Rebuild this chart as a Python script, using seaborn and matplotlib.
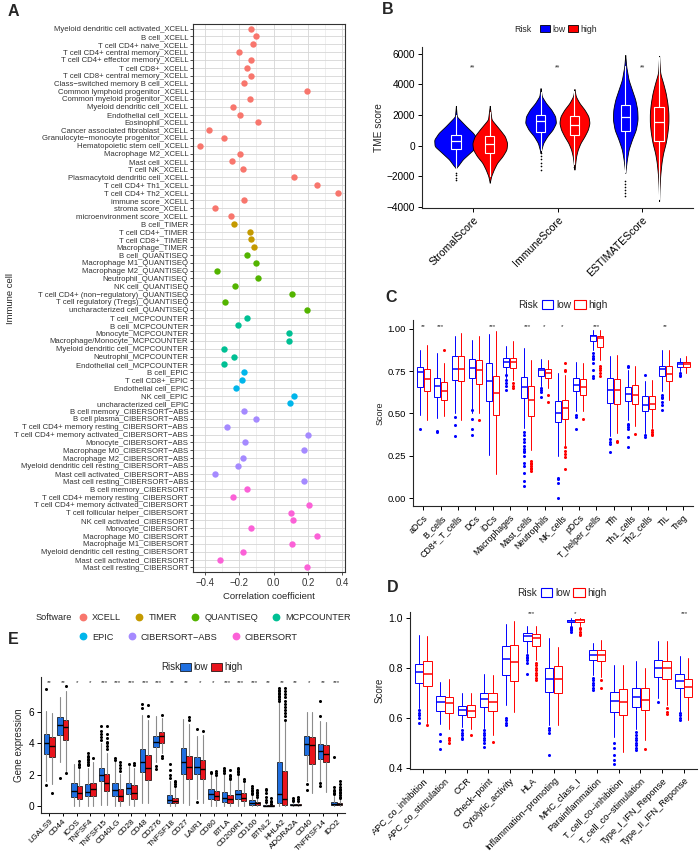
import numpy as np
import pandas as pd
import matplotlib
matplotlib.use('Agg')
import matplotlib.pyplot as plt
import seaborn as sns
from matplotlib.patches import Patch
from matplotlib.lines import Line2D

# ---------------------------------------------------------------- data: panel A
cells = [
    'Myeloid dendritic cell activated_XCELL', 'B cell_XCELL', 'T cell CD4+ naive_XCELL',
    'T cell CD4+ central memory_XCELL', 'T cell CD4+ effector memory_XCELL', 'T cell CD8+_XCELL',
    'T cell CD8+ central memory_XCELL', 'Class-switched memory B cell_XCELL',
    'Common lymphoid progenitor_XCELL', 'Common myeloid progenitor_XCELL',
    'Myeloid dendritic cell_XCELL', 'Endothelial cell_XCELL', 'Eosinophil_XCELL',
    'Cancer associated fibroblast_XCELL', 'Granulocyte-monocyte progenitor_XCELL',
    'Hematopoietic stem cell_XCELL', 'Macrophage M2_XCELL', 'Mast cell_XCELL', 'T cell NK_XCELL',
    'Plasmacytoid dendritic cell_XCELL', 'T cell CD4+ Th1_XCELL', 'T cell CD4+ Th2_XCELL',
    'immune score_XCELL', 'stroma score_XCELL', 'microenvironment score_XCELL',
    'B cell_TIMER', 'T cell CD4+_TIMER', 'T cell CD8+_TIMER', 'Macrophage_TIMER',
    'B cell_QUANTISEQ', 'Macrophage M1_QUANTISEQ', 'Macrophage M2_QUANTISEQ',
    'Neutrophil_QUANTISEQ', 'NK cell_QUANTISEQ', 'T cell CD4+ (non-regulatory)_QUANTISEQ',
    'T cell regulatory (Tregs)_QUANTISEQ', 'uncharacterized cell_QUANTISEQ',
    'T cell_MCPCOUNTER', 'B cell_MCPCOUNTER', 'Monocyte_MCPCOUNTER',
    'Macrophage/Monocyte_MCPCOUNTER', 'Myeloid dendritic cell_MCPCOUNTER',
    'Neutrophil_MCPCOUNTER', 'Endothelial cell_MCPCOUNTER',
    'B cell_EPIC', 'T cell CD8+_EPIC', 'Endothelial cell_EPIC', 'NK cell_EPIC',
    'uncharacterized cell_EPIC',
    'B cell memory_CIBERSORT-ABS', 'B cell plasma_CIBERSORT-ABS',
    'T cell CD4+ memory resting_CIBERSORT-ABS', 'T cell CD4+ memory activated_CIBERSORT-ABS',
    'Monocyte_CIBERSORT-ABS', 'Macrophage M0_CIBERSORT-ABS', 'Macrophage M2_CIBERSORT-ABS',
    'Myeloid dendritic cell resting_CIBERSORT-ABS', 'Mast cell activated_CIBERSORT-ABS',
    'Mast cell resting_CIBERSORT-ABS',
    'B cell memory_CIBERSORT', 'T cell CD4+ memory resting_CIBERSORT',
    'T cell CD4+ memory activated_CIBERSORT', 'T cell follicular helper_CIBERSORT',
    'NK cell activated_CIBERSORT', 'Monocyte_CIBERSORT', 'Macrophage M0_CIBERSORT',
    'Macrophage M1_CIBERSORT', 'Myeloid dendritic cell resting_CIBERSORT',
    'Mast cell activated_CIBERSORT', 'Mast cell resting_CIBERSORT',
]
coef = [
    -0.129, -0.102, -0.122, -0.201, -0.133, -0.155, -0.129, -0.174, 0.197, -0.137,
    -0.238, -0.193, -0.093, -0.379, -0.290, -0.427, -0.193, -0.245, -0.178, 0.120,
    0.253, 0.379, -0.172, -0.340, -0.251,
    -0.232, -0.135, -0.131, -0.114,
    -0.155, -0.104, -0.328, -0.091, -0.224, 0.108, -0.286, 0.197,
    -0.157, -0.205, 0.091, 0.091, -0.292, -0.228, -0.288,
    -0.174, -0.184, -0.218, 0.122, 0.095,
    -0.172, -0.104, -0.269, 0.201, -0.168, 0.178, -0.178, -0.205, -0.340, 0.176,
    -0.153, -0.234, 0.207, 0.100, 0.114, -0.131, 0.253, 0.108, -0.180, -0.313, 0.195,
]
software_order = ['XCELL', 'TIMER', 'QUANTISEQ', 'MCPCOUNTER', 'EPIC', 'CIBERSORT-ABS', 'CIBERSORT']
software_colors = ['#F8766D', '#C49A00', '#53B400', '#00C094', '#00B6EB', '#A58AFF', '#FB61D7']

# ---------------------------------------------------------------- data: panel B
b_groups = ['StromalScore', 'ImmuneScore', 'ESTIMATEScore']
# (lower whisker, q1, median, q3, upper whisker)
b_low_box = [(-1450, -196, 283, 717, 2000), (-300, 870, 1630, 2020, 3500), (-1700, 980, 1850, 2670, 5200)]
b_high_box = [(-2000, -480, 110, 610, 2200), (-1200, 717, 1350, 1910, 3600), (-3500, 326, 1520, 2520, 5800)]
b_low_out = [[-1800, -1950, -2100, -2250], [-480, -700, -900, -1150, -1350, -1570],
             [-2300, -2500, -2700, -2900, -3100, -3300]]
b_high_out = [[], [-1400], []]
# violin outlines: score levels and relative density
b_low_level = [
    [2600, 1900, 1260, 830, 390, -40, -480, -910, -1350, -1460],
    [3760, 3220, 2780, 2350, 1910, 1480, 1040, 610, 170, -260, -480],
    [5930, 5170, 4300, 3650, 3000, 2350, 1700, 1040, 390, -260, -910, -1780],
]
b_low_dens = [
    [0, .04, .46, .77, .97, .95, .62, .30, .08, 0],
    [0, .08, .35, .70, .95, 1.0, .78, .43, .17, .05, 0],
    [0, .08, .27, .54, .81, .97, 1.0, .86, .54, .27, .13, 0],
]
b_high_level = [
    [2600, 1700, 1040, 610, 170, -260, -700, -1130, -1570, -2000, -2430],
    [3700, 3220, 2780, 2350, 1910, 1480, 1040, 610, 170, -260, -700, -1570],
    [5870, 4740, 4090, 3430, 2780, 2130, 1480, 830, 170, -480, -1130, -2000, -2870, -3630],
]
b_high_dens = [
    [0, .10, .58, .87, 1.0, .96, .73, .42, .23, .08, 0],
    [0, .09, .33, .67, .93, 1.0, .89, .67, .40, .22, .11, 0],
    [0, .11, .43, .71, .89, 1.0, 1.0, .89, .71, .43, .25, .11, .04, 0],
]
b_low_peak = [0.255, 0.18, 0.145]
b_high_peak = [0.204, 0.176, 0.11]
b_sig = ['**', '**', '**']

# ---------------------------------------------------------------- data: panel C
c_groups = ['aDCs', 'B_cells', 'CD8+_T_cells', 'DCs', 'iDCs', 'Macrophages', 'Mast_cells',
            'Neutrophils', 'NK_cells', 'pDCs', 'T_helper_cells', 'Tfh', 'Th1_cells', 'Th2_cells',
            'TIL', 'Treg']
c_low = [
    (0.493, 0.657, 0.745, 0.775, 0.878), (0.473, 0.600, 0.665, 0.710, 0.858),
    (0.500, 0.700, 0.763, 0.838, 0.960), (0.500, 0.710, 0.769, 0.823, 0.937),
    (0.256, 0.572, 0.694, 0.800, 0.972), (0.710, 0.775, 0.803, 0.828, 0.900),
    (0.414, 0.592, 0.655, 0.716, 0.888), (0.665, 0.720, 0.755, 0.769, 0.822),
    (0.247, 0.448, 0.503, 0.572, 0.740), (0.513, 0.635, 0.670, 0.710, 0.805),
    (0.878, 0.927, 0.957, 0.966, 0.996), (0.369, 0.562, 0.641, 0.710, 0.838),
    (0.463, 0.572, 0.617, 0.655, 0.760), (0.385, 0.513, 0.552, 0.602, 0.690),
    (0.631, 0.720, 0.763, 0.783, 0.878), (0.750, 0.775, 0.795, 0.803, 0.828),
]
c_high = [
    (0.460, 0.633, 0.706, 0.763, 0.907), (0.483, 0.582, 0.631, 0.684, 0.800),
    (0.460, 0.690, 0.763, 0.842, 0.976), (0.500, 0.677, 0.757, 0.815, 0.957),
    (0.144, 0.489, 0.621, 0.724, 0.986), (0.700, 0.769, 0.803, 0.828, 0.927),
    (0.286, 0.483, 0.582, 0.661, 0.818), (0.650, 0.710, 0.740, 0.765, 0.818),
    (0.306, 0.467, 0.533, 0.582, 0.730), (0.513, 0.611, 0.657, 0.704, 0.800),
    (0.818, 0.893, 0.945, 0.960, 0.992), (0.385, 0.556, 0.637, 0.704, 0.848),
    (0.424, 0.556, 0.611, 0.671, 0.783), (0.414, 0.527, 0.558, 0.602, 0.700),
    (0.578, 0.690, 0.736, 0.779, 0.874), (0.740, 0.775, 0.795, 0.803, 0.838),
]
c_low_out = [
    [0.408], [0.398, 0.389], [0.48, 0.43, 0.366], [0.52, 0.47, 0.41, 0.37], [],
    [0.73, 0.70, 0.68, 0.66, 0.64],
    [0.39, 0.37, 0.35, 0.33, 0.31, 0.29, 0.28, 0.27, 0.25, 0.21, 0.19, 0.15, 0.10, 0.07],
    [0.65, 0.64, 0.63, 0.60], [0.12, 0.11, 0.09, 0.0], [0.49, 0.48, 0.41],
    [0.86, 0.84, 0.83, 0.82, 0.80, 0.76, 0.72, 0.71], [0.35, 0.33, 0.32, 0.27],
    [0.783, 0.775, 0.44, 0.43, 0.42, 0.41, 0.36, 0.30], [0.73, 0.37, 0.36],
    [0.61, 0.60, 0.59, 0.57, 0.55, 0.52], [0.74, 0.73, 0.72],
]
c_high_out = [
    [], [0.874], [], [0.46], [], [0.68, 0.66, 0.65], [0.22, 0.21, 0.20, 0.19, 0.18, 0.17, 0.16],
    [0.61, 0.57], [0.80, 0.76, 0.75, 0.30, 0.28, 0.26, 0.24, 0.17], [0.47],
    [0.78, 0.77, 0.76, 0.74, 0.72], [0.34, 0.33], [0.38], [0.40, 0.39, 0.38, 0.37], [], [],
]
c_sig = ['**', '***', '', '', '***', '', '***', '*', '*', '', '***', '', '', '', '**', '']

# ---------------------------------------------------------------- data: panel D
d_groups = ['APC_co_inhibition', 'APC_co_stimulation', 'CCR', 'Check-point', 'Cytolytic_activity',
            'HLA', 'Inflammation-promoting', 'MHC_class_I', 'Parainflammation',
            'T_cell_co-inhibition', 'T_cell_co-stimulation', 'Type_I_IFN_Reponse',
            'Type_II_IFN_Reponse']
d_low = [
    (0.638, 0.741, 0.783, 0.816, 0.933), (0.577, 0.628, 0.662, 0.687, 0.745),
    (0.564, 0.611, 0.631, 0.647, 0.698), (0.561, 0.642, 0.674, 0.698, 0.776),
    (0.651, 0.772, 0.836, 0.886, 0.977), (0.859, 0.906, 0.926, 0.940, 0.969),
    (0.570, 0.705, 0.757, 0.799, 0.919), (0.969, 0.983, 0.987, 0.993, 0.999),
    (0.772, 0.832, 0.852, 0.872, 0.899), (0.524, 0.624, 0.667, 0.705, 0.812),
    (0.557, 0.642, 0.685, 0.718, 0.826), (0.680, 0.762, 0.799, 0.832, 0.906),
    (0.624, 0.718, 0.749, 0.776, 0.846),
]
d_high = [
    (0.580, 0.729, 0.776, 0.826, 0.926), (0.557, 0.620, 0.658, 0.685, 0.754),
    (0.557, 0.604, 0.628, 0.651, 0.698), (0.530, 0.628, 0.662, 0.701, 0.772),
    (0.624, 0.749, 0.824, 0.893, 0.987), (0.832, 0.889, 0.919, 0.937, 0.969),
    (0.570, 0.698, 0.756, 0.809, 0.882), (0.966, 0.983, 0.991, 0.996, 0.999),
    (0.765, 0.826, 0.852, 0.872, 0.913), (0.463, 0.611, 0.662, 0.714, 0.812),
    (0.510, 0.631, 0.671, 0.718, 0.799), (0.651, 0.754, 0.799, 0.826, 0.906),
    (0.590, 0.685, 0.725, 0.754, 0.839),
]
d_low_out = [
    [0.63, 0.62, 0.61, 0.60, 0.58], [0.537, 0.507, 0.474], [0.55, 0.54, 0.53, 0.52, 0.515],
    [0.55, 0.54, 0.53, 0.52, 0.51, 0.50, 0.485], [0.60, 0.59, 0.58, 0.57],
    [0.85, 0.845, 0.84, 0.83, 0.82, 0.775], [0.56, 0.55, 0.54, 0.45],
    [0.965, 0.96, 0.955, 0.95, 0.945], [0.76, 0.75, 0.74, 0.73, 0.72, 0.71],
    [0.50, 0.48, 0.45, 0.43, 0.415], [0.545, 0.53, 0.52, 0.51, 0.50, 0.49, 0.48, 0.47],
    [0.663], [0.62, 0.61, 0.60, 0.59],
]
d_high_out = [
    [0.573], [0.52, 0.51, 0.50], [0.53], [0.505], [],
    [0.82, 0.81, 0.80, 0.79, 0.78, 0.77, 0.76, 0.75], [],
    [0.96, 0.955, 0.945, 0.935, 0.93], [0.75, 0.72], [], [0.475], [0.64, 0.625, 0.615], [],
]
d_sig = ['', '', '', '', '', '***', '', '*', '', '', '', '', '***']

# ---------------------------------------------------------------- data: panel E
e_groups = ['LGALS9', 'CD44', 'ICOS', 'TNFSF4', 'TNFSF15', 'CD40LG', 'CD28', 'CD48', 'CD276',
            'TNFSF18', 'CD27', 'LAIR1', 'CD80', 'BTLA', 'CD200R1', 'CD160', 'BTNL2', 'HHLA2',
            'ADORA2A', 'CD40', 'TNFRSF14', 'IDO2']
e_low = [
    (1.60, 3.30, 4.00, 4.57, 6.06), (2.77, 4.51, 5.17, 5.64, 6.91), (0.00, 0.57, 0.96, 1.45, 2.66),
    (0.00, 0.64, 0.89, 1.38, 2.45), (0.10, 1.60, 1.98, 2.45, 4.00), (0.00, 0.64, 1.02, 1.49, 2.87),
    (0.10, 0.74, 1.13, 1.49, 2.55), (0.20, 2.17, 2.81, 3.62, 5.79), (2.77, 3.77, 4.10, 4.43, 5.70),
    (0.00, 0.21, 0.40, 0.68, 1.60), (0.20, 2.02, 2.81, 3.72, 5.53), (0.43, 2.02, 2.49, 3.09, 4.47),
    (0.00, 0.47, 0.75, 1.06, 2.02), (0.00, 0.26, 0.53, 0.89, 2.02), (0.00, 0.43, 0.75, 1.02, 1.96),
    (0.00, 0.10, 0.22, 0.36, 0.68), (0.00, 0.00, 0.02, 0.06, 0.15), (0.00, 0.21, 0.74, 2.77, 6.60),
    (0.00, 0.04, 0.09, 0.15, 0.21), (1.60, 3.23, 3.94, 4.43, 6.00), (1.60, 2.98, 3.47, 3.94, 5.43),
    (0.00, 0.06, 0.15, 0.26, 0.64),
]
e_high = [
    (1.38, 3.09, 3.83, 4.36, 5.91), (2.23, 4.19, 5.00, 5.49, 7.30), (0.00, 0.43, 0.85, 1.28, 2.34),
    (0.00, 0.64, 1.06, 1.49, 2.77), (0.10, 0.96, 1.49, 2.02, 3.40), (0.00, 0.32, 0.64, 1.06, 2.02),
    (0.00, 0.47, 0.85, 1.32, 2.45), (0.20, 1.66, 2.45, 3.23, 5.50), (3.40, 4.00, 4.43, 4.68, 5.60),
    (0.00, 0.17, 0.32, 0.53, 1.17), (0.10, 1.70, 2.49, 3.19, 5.20), (0.17, 1.70, 2.34, 2.94, 4.50),
    (0.00, 0.38, 0.64, 0.96, 1.91), (0.00, 0.21, 0.43, 0.70, 1.60), (0.00, 0.32, 0.53, 0.81, 1.49),
    (0.00, 0.06, 0.17, 0.28, 0.53), (0.00, 0.00, 0.01, 0.04, 0.10), (0.00, 0.10, 0.43, 2.23, 5.40),
    (0.00, 0.04, 0.09, 0.13, 0.21), (0.85, 2.66, 3.87, 4.36, 5.96), (0.89, 2.77, 3.34, 3.87, 5.36),
    (0.00, 0.04, 0.11, 0.19, 0.43),
]
e_low_out = [
    [7.45, 1.32], [1.81], [], [2.6, 2.7, 2.8, 2.9, 3.0, 3.1, 3.2, 3.35], [4.2, 4.4, 4.6, 4.8, 5.1],
    [2.95, 3.05], [2.7], [6.2, 6.5], [2.55, 2.35], [1.8, 2.0, 2.3, 2.7], [], [4.9, 0.26],
    [2.1, 2.15], [2.1, 2.2, 2.3, 2.4], [2.05, 2.15, 2.25, 2.35, 2.4],
    [0.75, 0.85, 0.95, 1.05, 1.15, 1.3], [0.25, 0.4, 0.6, 0.8, 1.0, 1.1],
    [6.7, 6.8, 6.9, 7.0, 7.1, 7.2, 7.3, 7.4, 7.5], [0.3, 0.4, 0.5], [1.4, 1.05],
    [5.7, 6.7, 1.45, 1.3], [0.75, 0.85, 0.95, 1.05, 1.2, 3.1],
]
e_high_out = [
    [0.81], [7.6, 2.09], [2.5, 2.6, 2.7, 2.85], [3.05], [3.6, 3.8, 4.0, 4.1, 4.3, 4.6, 5.1],
    [2.2, 2.4, 2.6, 2.8], [2.6, 2.75], [6.4, 5.7], [3.15, 3.05, 5.8], [1.3, 1.4, 1.5, 1.6],
    [5.5, 5.65], [4.8], [2.0, 2.1, 2.25], [1.7, 1.8, 1.9, 2.0, 2.3], [1.6, 1.7],
    [0.6, 0.7, 0.8, 0.9, 1.0], [0.15, 0.25, 0.35, 0.5],
    [5.5, 5.7, 5.9, 6.1, 6.3, 6.5, 6.7, 6.9, 7.1, 7.3, 7.5], [0.3, 0.45, 0.6], [], [],
    [0.5, 0.6, 0.7, 0.8, 0.9, 1.0, 1.1, 1.2, 1.4, 1.6],
]
e_sig = ['**', '**', '*', '*', '***', '***', '***', '***', '***', '**', '**', '*', '*', '***',
         '***', '***', '**', '**', '**', '*', '**', '***']

# ---------------------------------------------------------------- style
sns.set_style('ticks')
plt.rcParams['font.family'] = ['Liberation Sans', 'DejaVu Sans']
plt.rcParams['axes.linewidth'] = 0.8

W, H = 699, 851
fig = plt.figure(figsize=(W / 100, H / 100), dpi=100)


def px_axes(l, t, r, b):
    return fig.add_axes([l / W, 1 - b / H, (r - l) / W, (b - t) / H])


def minus(s):
    return s.replace('-', '\u2212')


def classic(ax, fs):
    sns.despine(ax=ax)
    ax.tick_params(labelsize=fs, length=3, width=0.7, colors='black', pad=2)


def to_stats(boxes, fliers):
    return [dict(whislo=b[0], q1=b[1], med=b[2], q3=b[3], whishi=b[4], fliers=f)
            for b, f in zip(boxes, fliers)]


def risk_legend(xt, xl, y, handles, fs):
    fig.text(xt / W, 1 - y / H, 'Risk', fontsize=fs, va='center', ha='left')
    fig.legend(handles=handles, labels=['low', 'high'], loc='center left',
               bbox_to_anchor=(xl / W, 1 - y / H), ncol=2, frameon=False, fontsize=fs,
               handlelength=1.1, handleheight=0.9, handletextpad=0.3, columnspacing=0.3,
               borderpad=0, borderaxespad=0)


def sig_labels(ax, sig, y, fs=5):
    for i, s in enumerate(sig):
        if s:
            ax.text(i, y, s, ha='center', va='center', fontsize=fs)


def cat_xaxis(ax, groups, fs):
    ax.set_xticks(range(len(groups)))
    ax.set_xticklabels([minus(g) for g in groups], rotation=45, ha='right',
                       rotation_mode='anchor', fontsize=fs)
    ax.set_xlim(-0.6, len(groups) - 0.4)


blue, red = '#0000FF', '#FF0000'

# ---------------------------------------------------------------- A: dot plot
df_a = pd.DataFrame({'cell': cells, 'coef': coef})
df_a['software'] = df_a['cell'].str.rsplit('_', n=1).str[1]

axA = px_axes(193, 24, 345, 572)
sns.stripplot(data=df_a, x='coef', y='cell', hue='software', order=cells,
              hue_order=software_order, palette=software_colors, jitter=False, size=4.6,
              linewidth=0, legend=False, orient='h', ax=axA, zorder=3)
axA.set_ylim(len(cells) - 0.4, -0.6)
axA.set_xlim(-0.47, 0.417)
axA.set_xticks([-0.4, -0.2, 0.0, 0.2, 0.4])
axA.set_xticklabels([minus(f'{v:.1f}') for v in [-0.4, -0.2, 0.0, 0.2, 0.4]])
axA.set_xticks([-0.3, -0.1, 0.1, 0.3], minor=True)
axA.set_yticks(range(len(cells)))
axA.set_yticklabels([minus(c) for c in cells])
axA.set_axisbelow(True)
axA.grid(True, which='major', color='#D6D6D6', lw=0.6)
axA.grid(True, which='minor', axis='x', color='#E4E4E4', lw=0.4)
axA.tick_params(axis='y', labelsize=5.6, length=2, width=0.6, pad=1.5, colors='#333333')
axA.tick_params(axis='x', labelsize=6.9, length=2.5, width=0.6, pad=1.5, colors='#333333')
axA.tick_params(which='minor', length=0)
for sp in axA.spines.values():
    sp.set_color('#333333')
    sp.set_linewidth(0.8)
axA.set_xlabel('Correlation coefficient', fontsize=6.8, labelpad=3)
axA.set_ylabel('')
fig.text(11 / W, 1 - 298 / H, 'Immune cell', rotation=90, fontsize=6.8, ha='center', va='center')

# software legend, two rows
fig.text(36 / W, 1 - 618 / H, 'Software', fontsize=6.6, va='center', ha='left')
sw_handles = [Line2D([], [], ls='', marker='o', ms=4.6, color=c) for c in software_colors]
for rows, y in [(range(0, 4), 618), (range(4, 7), 637)]:
    fig.legend(handles=[sw_handles[i] for i in rows], labels=[minus(software_order[i]) for i in rows],
               loc='center left', bbox_to_anchor=(79 / W, 1 - y / H), ncol=len(rows),
               frameon=False, fontsize=6.6, handlelength=0.8, handletextpad=0.6,
               columnspacing=1.6, borderpad=0, borderaxespad=0)

# ---------------------------------------------------------------- B: violins
axB = px_axes(422, 47, 693, 208)
for boxes, outs, levels, dens, peaks, off, col in [
        (b_low_box, b_low_out, b_low_level, b_low_dens, b_low_peak, -0.2, blue),
        (b_high_box, b_high_out, b_high_level, b_high_dens, b_high_peak, 0.2, red)]:
    for i in range(len(b_groups)):
        lv = np.array(levels[i][::-1], float)
        dv = np.array(dens[i][::-1], float)
        coords = np.linspace(lv.min(), lv.max(), 300)
        vals = np.interp(coords, lv, dv)
        kern = np.hanning(25)
        vals = np.convolve(vals, kern / kern.sum(), mode='same')
        vp = [dict(coords=coords, vals=vals, mean=np.mean(lv), median=np.median(lv),
                   min=lv.min(), max=lv.max())]
        parts = axB.violin(vp, positions=[i + off], widths=[2 * peaks[i]], showextrema=False)
        for body in parts['bodies']:
            body.set_facecolor(col)
            body.set_edgecolor('black')
            body.set_linewidth(0.6)
            body.set_alpha(1)
    axB.bxp(to_stats(boxes, outs), positions=np.arange(len(b_groups)) + off, widths=0.11,
            patch_artist=True, showcaps=False,
            boxprops=dict(facecolor=col, edgecolor='white', linewidth=0.8),
            medianprops=dict(color='white', linewidth=0.9),
            whiskerprops=dict(color='white', linewidth=0.8),
            flierprops=dict(marker='o', markersize=1.2, markerfacecolor='black',
                            markeredgecolor='none'),
            manage_ticks=False, zorder=3)
cat_xaxis(axB, b_groups, 7.6)
axB.set_ylim(-4085, 6450)
axB.set_yticks([-4000, -2000, 0, 2000, 4000, 6000])
axB.set_yticklabels([minus(str(v)) for v in [-4000, -2000, 0, 2000, 4000, 6000]])
classic(axB, 7.3)
axB.tick_params(axis='x', labelsize=7.6)
axB.set_ylabel('TME score', fontsize=7.3, labelpad=2)
sig_labels(axB, b_sig, 5100)
risk_legend(514, 540, 29, [Patch(facecolor=blue, edgecolor='black', lw=0.6),
                           Patch(facecolor=red, edgecolor='black', lw=0.6)], 6.3)


# ---------------------------------------------------------------- C, D: outline boxplots
def outline_boxes(ax, low, high, low_out, high_out, width):
    for boxes, outs, off, col in [(low, low_out, -0.2, blue), (high, high_out, 0.2, red)]:
        ax.bxp(to_stats(boxes, outs), positions=np.arange(len(boxes)) + off, widths=width,
               patch_artist=True, showcaps=False,
               boxprops=dict(facecolor='white', edgecolor=col, linewidth=0.7),
               medianprops=dict(color=col, linewidth=1.1),
               whiskerprops=dict(color=col, linewidth=0.7),
               flierprops=dict(marker='o', markersize=2.2, markerfacecolor=col,
                               markeredgecolor='none'),
               manage_ticks=False)


axC = px_axes(413, 320.5, 693.4, 506.5)
outline_boxes(axC, c_low, c_high, c_low_out, c_high_out, 0.35)
cat_xaxis(axC, c_groups, 6.3)
axC.set_ylim(-0.05, 1.05)
axC.set_yticks([0, 0.25, 0.5, 0.75, 1.0])
axC.set_yticklabels(['0.00', '0.25', '0.50', '0.75', '1.00'])
classic(axC, 6.8)
axC.tick_params(axis='x', labelsize=6.3)
axC.set_ylabel('Score', fontsize=6.5, labelpad=2)
sig_labels(axC, c_sig, 1.015, 4.5)
risk_legend(518, 542, 305, [Patch(facecolor='white', edgecolor=blue, lw=0.8),
                            Patch(facecolor='white', edgecolor=red, lw=0.8)], 7.3)

axD = px_axes(410, 611.7, 697, 769)
outline_boxes(axD, d_low, d_high, d_low_out, d_high_out, 0.38)
cat_xaxis(axD, d_groups, 6.6)
axD.set_ylim(0.396, 1.025)
axD.set_yticks([0.4, 0.6, 0.8, 1.0])
classic(axD, 7.5)
axD.tick_params(axis='x', labelsize=6.6)
axD.set_ylabel('Score', fontsize=7, labelpad=3)
sig_labels(axD, d_sig, 1.016, 4.5)
risk_legend(517, 541, 593, [Patch(facecolor='white', edgecolor=blue, lw=0.8),
                            Patch(facecolor='white', edgecolor=red, lw=0.8)], 7.3)

# ---------------------------------------------------------------- E: filled boxplots
e_blue, e_red = '#1F6FE0', '#E8141C'
axE = px_axes(41, 677, 345, 813)
for boxes, outs, off, col in [(e_low, e_low_out, -0.2, e_blue), (e_high, e_high_out, 0.2, e_red)]:
    axE.bxp(to_stats(boxes, outs), positions=np.arange(len(e_groups)) + off, widths=0.4,
            patch_artist=True, showcaps=False,
            boxprops=dict(facecolor=col, edgecolor='black', linewidth=0.5),
            medianprops=dict(color='black', linewidth=1.0),
            whiskerprops=dict(color='#8C8C8C', linewidth=0.8),
            flierprops=dict(marker='o', markersize=2.2, markerfacecolor='black',
                            markeredgecolor='none'),
            manage_ticks=False)
cat_xaxis(axE, e_groups, 5.9)
axE.set_ylim(-0.44, 8.2)
axE.set_yticks([0, 2, 4, 6])
classic(axE, 7.3)
axE.tick_params(axis='x', labelsize=5.9, pad=1.2, length=2.5)
axE.set_ylabel('Gene expression', fontsize=7, labelpad=3)
sig_labels(axE, e_sig, 7.85, 4.5)
risk_legend(161, 180, 667, [Patch(facecolor=e_blue, edgecolor='black', lw=0.5),
                            Patch(facecolor=e_red, edgecolor='black', lw=0.5)], 7)

# ---------------------------------------------------------------- panel letters
for lab, x, y in [('A', 8, 12), ('B', 382, 10), ('C', 385, 298), ('D', 387, 588), ('E', 8, 640)]:
    fig.text(x / W, 1 - y / H, lab, fontsize=11.5, fontweight='bold', ha='left', va='center')

fig.savefig('out.png', dpi=100)
